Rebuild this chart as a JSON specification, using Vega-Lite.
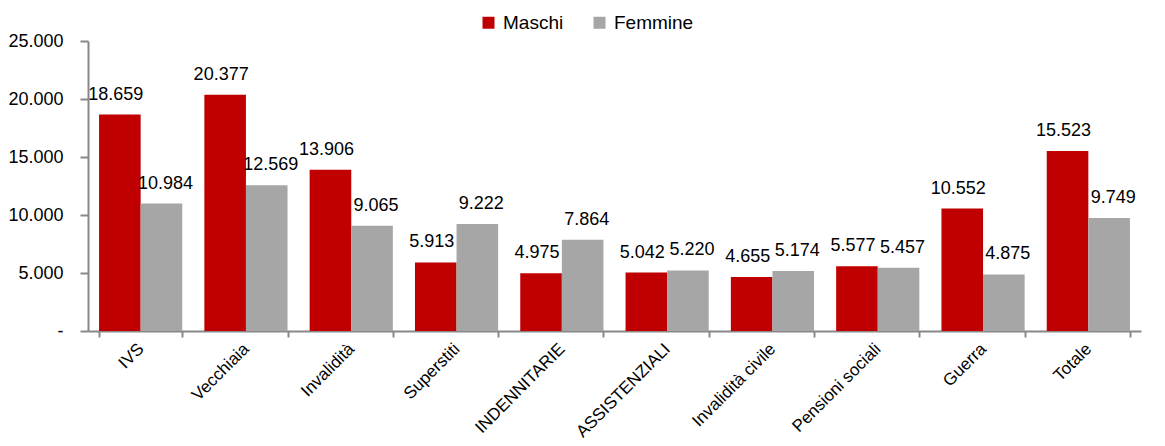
{
  "$schema": "https://vega.github.io/schema/vega-lite/v6.json",
  "width": 1053,
  "height": 290,
  "autosize": "none",
  "padding": {"left": 88, "top": 41, "right": 24, "bottom": 115},
  "background": "white",
  "config": {
    "view": {"stroke": null},
    "font": "Liberation Sans, Arial, sans-serif",
    "locale": {"number": {"decimal": ",", "thousands": ".", "grouping": [3], "currency": ["€", ""]}}
  },
  "data": {
    "values": [
      {"cat": "IVS", "sesso": "Maschi", "v": 18659},
      {"cat": "IVS", "sesso": "Femmine", "v": 10984},
      {"cat": "Vecchiaia", "sesso": "Maschi", "v": 20377},
      {"cat": "Vecchiaia", "sesso": "Femmine", "v": 12569},
      {"cat": "Invalidità", "sesso": "Maschi", "v": 13906},
      {"cat": "Invalidità", "sesso": "Femmine", "v": 9065},
      {"cat": "Superstiti", "sesso": "Maschi", "v": 5913},
      {"cat": "Superstiti", "sesso": "Femmine", "v": 9222},
      {"cat": "INDENNITARIE", "sesso": "Maschi", "v": 4975},
      {"cat": "INDENNITARIE", "sesso": "Femmine", "v": 7864},
      {"cat": "ASSISTENZIALI", "sesso": "Maschi", "v": 5042},
      {"cat": "ASSISTENZIALI", "sesso": "Femmine", "v": 5220},
      {"cat": "Invalidità civile", "sesso": "Maschi", "v": 4655},
      {"cat": "Invalidità civile", "sesso": "Femmine", "v": 5174},
      {"cat": "Pensioni sociali", "sesso": "Maschi", "v": 5577},
      {"cat": "Pensioni sociali", "sesso": "Femmine", "v": 5457},
      {"cat": "Guerra", "sesso": "Maschi", "v": 10552},
      {"cat": "Guerra", "sesso": "Femmine", "v": 4875},
      {"cat": "Totale", "sesso": "Maschi", "v": 15523},
      {"cat": "Totale", "sesso": "Femmine", "v": 9749}
    ]
  },
  "encoding": {
    "x": {
      "field": "cat", "type": "nominal", "sort": null, "title": null,
      "scale": {"paddingInner": 0.21, "paddingOuter": 0.105},
      "axis": {
        "labelAngle": -45, "labelAlign": "right", "labelBaseline": "middle",
        "labelFontSize": 17, "labelColor": "#000", "labelPadding": 9,
        "tickBand": "extent", "tickSize": 6, "tickColor": "#888", "domainColor": "#888",
        "domainWidth": 2, "tickWidth": 2
      }
    },
    "xOffset": {"field": "sesso", "type": "nominal", "sort": ["Maschi", "Femmine"]},
    "y": {
      "field": "v", "type": "quantitative", "title": null,
      "scale": {"domain": [0, 25000], "nice": false},
      "axis": {
        "values": [0, 5000, 10000, 15000, 20000, 25000],
        "labelExpr": "datum.value == 0 ? '-' : format(datum.value, ',.0f')",
        "labelFontSize": 18, "labelColor": "#000", "labelPadding": 17,
        "grid": false, "tickSize": 8, "tickColor": "#888", "domainColor": "#888",
        "domainWidth": 2, "tickWidth": 2
      }
    }
  },
  "layer": [
    {
      "mark": {"type": "bar"},
      "encoding": {
        "color": {
          "field": "sesso", "type": "nominal",
          "scale": {"domain": ["Maschi", "Femmine"], "range": ["#C00000", "#A6A6A6"]},
          "legend": {
            "title": null, "orient": "none", "direction": "horizontal",
            "legendX": 391, "legendY": -28,
            "symbolType": "square", "symbolSize": 144, "symbolStrokeWidth": 0,
            "labelFontSize": 19, "labelColor": "#000", "labelOffset": 5, "columnPadding": 26
          }
        }
      }
    },
    {
      "transform": [{"filter": "datum.sesso == 'Maschi'"}],
      "mark": {"type": "text", "baseline": "alphabetic", "dy": -15, "dx": -4, "fontSize": 18, "color": "#000"},
      "encoding": {
        "text": {"field": "v", "type": "quantitative", "format": ",.0f"}
      }
    },
    {
      "transform": [{"filter": "datum.sesso == 'Femmine'"}],
      "mark": {"type": "text", "baseline": "alphabetic", "dy": -15, "dx": 4, "fontSize": 18, "color": "#000"},
      "encoding": {
        "text": {"field": "v", "type": "quantitative", "format": ",.0f"}
      }
    }
  ]
}
